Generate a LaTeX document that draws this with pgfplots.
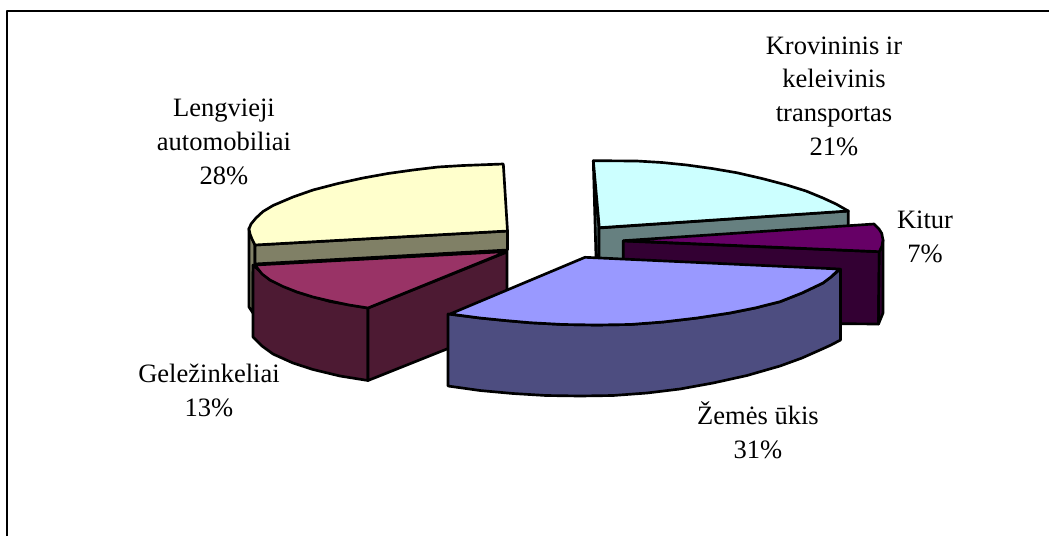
\documentclass[border=0pt]{standalone}
\usepackage{fontspec}
\setmainfont{Liberation Serif}
\usepackage{pgfplots}
\pgfplotsset{compat=1.18}
\definecolor{yel}{HTML}{FFFFCC}\definecolor{yeld}{HTML}{808066}
\definecolor{mar}{HTML}{993366}\definecolor{mard}{HTML}{4D1A33}
\definecolor{cya}{HTML}{CCFFFF}\definecolor{cyad}{HTML}{668080}
\definecolor{pur}{HTML}{660066}\definecolor{purd}{HTML}{330033}
\definecolor{blu}{HTML}{9999FF}\definecolor{blud}{HTML}{4D4D80}
\tikzset{lab/.style={font=\fontsize{19.9}{25.2}\selectfont,align=center,anchor=base,text=black}}
\begin{document}
\begin{tikzpicture}
\useasboundingbox (0,0) rectangle (786.75pt,402pt);
\begin{axis}[at={(0,0)},anchor=south west,scale only axis,width=786.75pt,height=402pt,
  xmin=0,xmax=1049,ymin=0,ymax=536,y dir=reverse,hide axis,clip=false,
  every axis plot/.append style={draw=black,line width=2pt,line join=round,mark=none}]
% frame
\addplot[line width=1.7pt,line cap=butt] coordinates {(7,536) (7,11) (1049,11)};
% Lengvieji automobiliai 28%
\addplot[fill=yeld] coordinates {(249,228) (252,238) (255,245) (255,264) (253,272) (253,313) (249,307)} -- cycle;
\addplot[fill=yeld] coordinates {(255,245) (507.5,231) (507.5,250) (255,264)} -- cycle;
\addplot[fill=yel] coordinates {(503.3,164) (463,165.5) (438,167) (413,170) (388,173.5) (363,178) (338,183.5) (313,190) (293,197) (273,205.5) (263,211.5) (256,218) (251,224) (249,229) (250,234) (252,239) (255,245) (507.5,231)} -- cycle;
% Geležinkeliai 13%
\addplot[fill=mard] coordinates {(253,265) (253,337) (262,346) (273,354) (293,363) (313,369.5) (340,376) (368,380.5) (368,308) (330,301.5) (297,292) (270,280)} -- cycle;
\addplot[fill=mard] coordinates {(368,308) (507,252) (507,325) (368,380.5)} -- cycle;
\addplot[fill=mar] coordinates {(255,265) (507,251.5) (368,308) (349,305) (330,301) (313,297) (297,292) (283,286.5) (270,280) (262,274)} -- cycle;
% Krovininis ir keleivinis transportas 21%
\addplot[fill=cyad] coordinates {(593.3,161) (596,257) (599,257) (599,228)} -- cycle;
\addplot[fill=cyad] coordinates {(599,228) (848.3,211) (848.3,240) (599,262)} -- cycle;
\addplot[fill=cya] coordinates {(593.3,160.7) (636.7,161) (662,162.5) (686.7,165) (712,168.5) (736.7,172.7) (762,178.5) (786.7,185) (806,191) (823,198) (836,204) (848.3,211) (599.3,227.7)} -- cycle;
% Kitur 7%
\addplot[fill=purd] coordinates {(623.3,241) (879.3,251.7) (878.5,324) (623.3,322)} -- cycle;
\addplot[fill=purd] coordinates {(879.3,251.7) (883,240) (883,313) (878.5,324)} -- cycle;
\addplot[fill=pur] coordinates {(623.3,240.7) (874,224) (879,229) (881.7,233.3) (883,240) (882,246) (879.3,251.7)} -- cycle;
% Žemės ūkis 31%
\addplot[fill=blud] coordinates {(448,314) (448,386) (480,390.5) (513,393.5) (546,395.5) (580,396) (613,395.5) (647,393) (680,389) (713,383) (747,375.5) (780,366) (802,358) (820,350) (831,345) (840.5,340) (840.5,269) (831,277) (823,283) (802,293) (780,301.7) (755,308) (730,313) (697,318) (663,322) (630,324.5) (597,325) (563,324.5) (530,322.7) (505,320.5) (480,318)} -- cycle;
\addplot[fill=blu] coordinates {(450,314) (585,257.3) (839.3,269) (831,277) (823,283) (802,293) (780,301.7) (755,308) (730,313) (697,318) (663,322) (630,324.5) (597,325) (563,324.5) (530,322.7) (505,320.5) (480,318)} -- cycle;
% labels
\node[lab] at (axis cs:834,155) {Krovininis ir\\keleivinis\\transportas\\21\%};
\node[lab] at (axis cs:925,262) {Kitur\\7\%};
\node[lab] at (axis cs:224,184) {Lengvieji\\automobiliai\\28\%};
\node[lab] at (axis cs:209,416) {Geležinkeliai\\13\%};
\node[lab] at (axis cs:758,458) {Žemės ūkis\\31\%};
\end{axis}
\end{tikzpicture}
\end{document}
